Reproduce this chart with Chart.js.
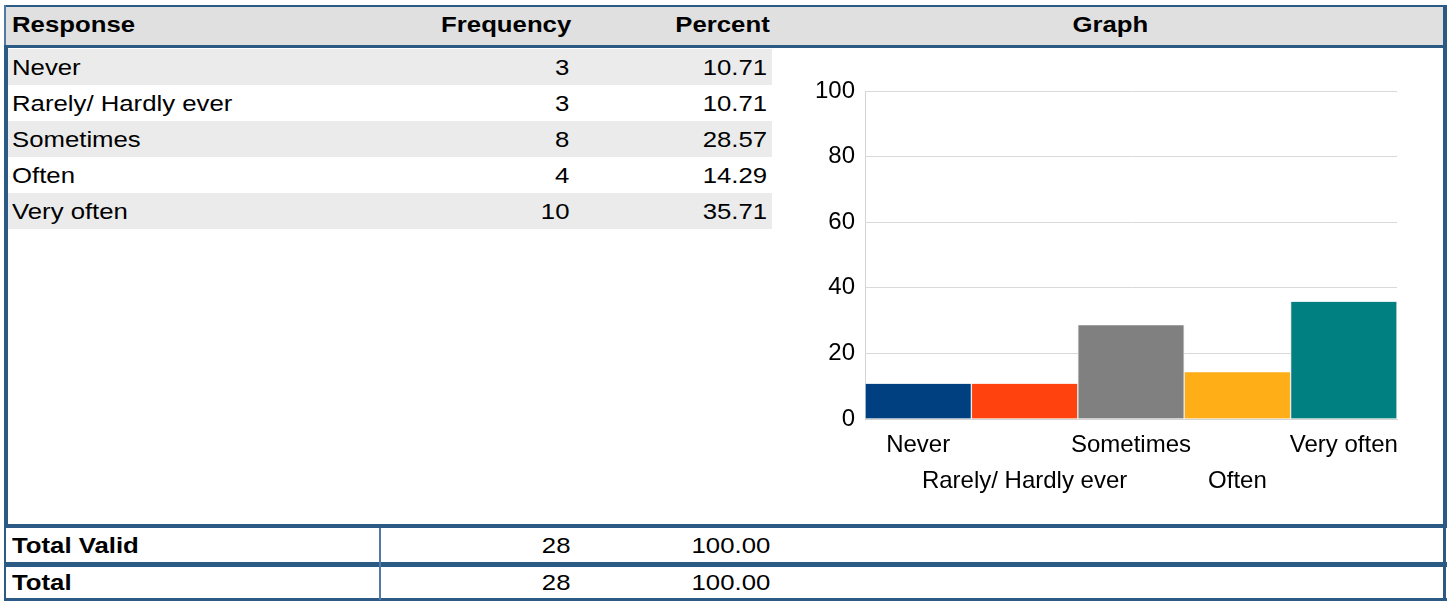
<!DOCTYPE html>
<html>
<head>
<meta charset="utf-8">
<script src="https://cdn.jsdelivr.net/npm/chart.js@4"></script>
<style>
  html, body { margin: 0; padding: 0; background: #fff; }
  body { width: 1450px; height: 602px; position: relative; overflow: hidden;
         font-family: "Liberation Sans", Arial, sans-serif; color: #000; }
  .abs { position: absolute; }
  .line { position: absolute; background: #2b5b85; }
  .txt { position: absolute; font-size: 22px; line-height: 36px; white-space: nowrap; }
  .txt span { display: inline-block; transform: scaleX(1.17); }
  .l span { transform-origin: left center; }
  .r { text-align: right; }
  .r span { transform-origin: right center; }
  .c { text-align: center; }
  .b { font-weight: bold; }
  #chartBox { position: absolute; left: 780px; top: 50px; width: 660px; height: 470px; }
</style>
</head>
<body>
<div id="page"></div>
<div id="chartBox"><canvas id="graph"></canvas></div>
<script>
// table / chart data
const headers = ['Response', 'Frequency', 'Percent', 'Graph'];
const categories = ['Never', 'Rarely/ Hardly ever', 'Sometimes', 'Often', 'Very often'];
const frequency = [3, 3, 8, 4, 10];
const percent = [10.71, 10.71, 28.57, 14.29, 35.71];
const totalLabels = ['Total Valid', 'Total'];
const totalFrequency = [28, 28];
const totalPercent = [100.00, 100.00];
const yTickMin = 0, yTickMax = 100, yTickStep = 20;

const barColors = ['#004080', '#ff420e', '#808080', '#ffae17', '#008080'];

const page = document.getElementById('page');

function box(cls, x, y, w, h, bg) {
    const d = document.createElement('div');
    d.className = cls;
    d.style.left = x + 'px'; d.style.top = y + 'px';
    d.style.width = w + 'px'; d.style.height = h + 'px';
    if (bg) d.style.background = bg;
    page.appendChild(d);
    return d;
}
function text(str, x, y, w, align, bold) {
    const d = box('txt ' + align + (bold ? ' b' : ''), x, y, w, 36);
    const s = document.createElement('span');
    s.textContent = str;
    d.appendChild(s);
}

// header
box('abs', 6, 7, 1437, 38, '#e0e0e0');
box('line', 4, 5, 1443, 2);
box('line', 4, 5, 2, 42).style.background = '#4f7aa3';
box('line', 1443, 5, 4, 42);
box('line', 4, 45, 1443, 3);
text(headers[0], 12, 7, 300, 'l', true);
text(headers[1], 300, 7, 271, 'r', true);
text(headers[2], 580, 7, 190, 'r', true);
text(headers[3], 773, 7, 674, 'c', true);

// body rows
categories.forEach((cat, i) => {
    const y = 49 + i * 36;
    if (i % 2 === 0) box('abs', 8, y, 764, 36, '#ebebeb');
    text(cat, 12, y + 1, 300, 'l', false);
    text(String(frequency[i]), 400, y + 1, 169, 'r', false);
    text(percent[i].toFixed(2), 580, y + 1, 187, 'r', false);
});
box('line', 4, 48, 4, 478);
box('line', 1443, 48, 4, 478);

// totals
box('line', 4, 524, 1443, 4);
box('line', 4, 562, 1443, 5);
box('line', 4, 598, 1443, 3);
box('line', 4, 524, 2, 77);
box('line', 1443, 524, 3, 77);
box('line', 379, 528, 2, 72).style.background = '#4f7aa3';
totalLabels.forEach((lab, i) => {
    const y = 528 + i * 37;
    text(lab, 12, y, 300, 'l', true);
    text(String(totalFrequency[i]), 400, y, 170, 'r', false);
    text(totalPercent[i].toFixed(2), 580, y, 190, 'r', false);
});

// graph
const ctx = document.getElementById('graph');
new Chart(ctx, {
    type: 'bar',
    data: {
        labels: categories,
        datasets: [{
            data: percent,
            backgroundColor: barColors,
            borderColor: 'rgba(235,235,235,1)',
            borderWidth: { left: 1, right: 1, top: 0, bottom: 0 },
            categoryPercentage: 1,
            barPercentage: 1
        }]
    },
    options: {
        responsive: true,
        maintainAspectRatio: false,
        animation: false,
        layout: { padding: { top: 41, right: 43, left: 0, bottom: 0 } },
        plugins: { legend: { display: false }, tooltip: { enabled: false } },
        scales: {
            x: {
                grid: { display: false },
                border: { color: '#d4d4d4' },
                ticks: {
                    autoSkip: false, maxRotation: 0, minRotation: 0,
                    padding: 0, color: '#000',
                    font: { family: 'Liberation Sans', size: 24, lineHeight: 1.5 },
                    // stagger the labels on two rows
                    callback: (v, i) => i % 2 ? ['', categories[i]] : categories[i]
                },
                afterFit: s => { s.height = 101; }
            },
            y: {
                min: yTickMin, max: yTickMax,
                grid: { color: '#d9d9d9', drawTicks: false },
                border: { color: '#d4d4d4' },
                ticks: {
                    stepSize: yTickStep, padding: 10, color: '#000',
                    font: { family: 'Liberation Sans', size: 24 }
                },
                afterFit: s => { s.width = 85; }
            }
        }
    }
});
</script>
</body>
</html>
